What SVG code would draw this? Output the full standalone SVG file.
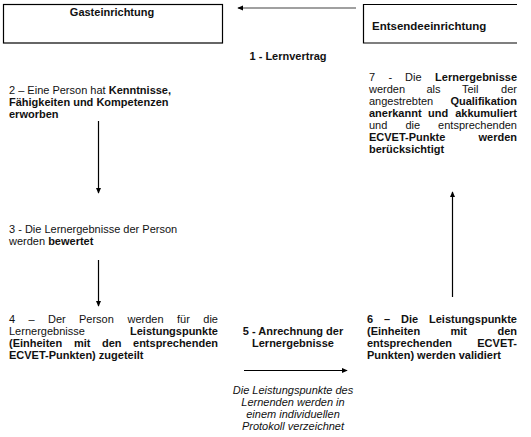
<svg xmlns="http://www.w3.org/2000/svg" width="531" height="437" viewBox="0 0 531 437">
<style>
text{font-family:"Liberation Sans",Arial,sans-serif;font-size:11px;fill:#111}
.b{font-weight:bold}
.i{font-style:italic}
.e{text-anchor:end}
.m{text-anchor:middle}
.box{fill:none;stroke:#000;stroke-width:1.2}
.con{stroke:#000;stroke-width:1.2;fill:none}
</style>
<defs>
<marker id="ah" viewBox="0 0 8 8" refX="7" refY="4" markerWidth="6" markerHeight="6" orient="auto" markerUnits="userSpaceOnUse">
<path d="M0,0.5 L8,4 L0,7.5 z" fill="#000"/>
</marker>
</defs>
<g id="gasteinrichtung">
<rect class="box" x="3.5" y="4.5" width="219" height="38.5"/>
<text class="b m" x="112" y="16">Gasteinrichtung</text>
</g>
<g id="entsendeeinrichtung">
<path class="box" d="M517,4.5 H363.5 V43 H517"/>
<text class="b" x="372" y="30" style="font-size:11.5px">Entsendeeinrichtung</text>
</g>
<g id="step1">
<text class="b m" x="288" y="60">1 - Lernvertrag</text>
</g>
<g id="step2">
<text x="9" y="94">2 – Eine Person hat <tspan class="b">Kenntnisse,</tspan></text>
<text class="b" x="9" y="106">Fähigkeiten und Kompetenzen</text>
<text class="b" x="9" y="118">erworben</text>
</g>
<g id="step3">
<text x="9" y="233">3 - Die Lernergebnisse der Person</text>
<text x="9" y="245">werden <tspan class="b">bewertet</tspan></text>
</g>
<g id="step4">
<text y="323"><tspan x="9">4</tspan><tspan x="28.5">–</tspan><tspan x="48">Der</tspan><tspan x="79">Person</tspan><tspan x="127.5">werden</tspan><tspan x="177">für</tspan></text>
<text class="e" x="218" y="323">die</text>
<text x="9" y="335">Lernergebnisse</text>
<text class="b e" x="218" y="335">Leistungspunkte</text>
<text class="b" y="347"><tspan x="9">(Einheiten</tspan><tspan x="74">mit</tspan><tspan x="102">den</tspan></text>
<text class="b e" x="218" y="347">entsprechenden</text>
<text class="b" x="9" y="359">ECVET-Punkten) zugeteilt</text>
</g>
<g id="step5">
<text class="b m" x="293" y="335">5 - Anrechnung der</text>
<text class="b m" x="293" y="347">Lernergebnisse</text>
</g>
<g id="note">
<text class="i m" x="293" y="394">Die Leistungspunkte des</text>
<text class="i m" x="293" y="406">Lernenden werden in</text>
<text class="i m" x="293" y="418">einem individuellen</text>
<text class="i m" x="293" y="430">Protokoll verzeichnet</text>
</g>
<g id="step6">
<text class="b" y="323"><tspan x="367">6</tspan><tspan x="384">–</tspan><tspan x="401">Die</tspan></text>
<text class="b e" x="517" y="323">Leistungspunkte</text>
<text class="b" y="335"><tspan x="367">(Einheiten</tspan><tspan x="450.5">mit</tspan></text>
<text class="b e" x="517" y="335">den</text>
<text class="b" x="367" y="347">entsprechenden</text>
<text class="b e" x="517" y="347">ECVET-</text>
<text class="b" x="367" y="359">Punkten) werden validiert</text>
</g>
<g id="step7">
<text y="81"><tspan x="369">7</tspan><tspan x="388.5">-</tspan><tspan x="405">Die</tspan></text>
<text class="b e" x="517" y="81">Lernergebnisse</text>
<text y="93"><tspan x="369">werden</tspan><tspan x="426.5">als</tspan><tspan x="462">Teil</tspan></text>
<text class="e" x="517" y="93">der</text>
<text x="369" y="105">angestrebten</text>
<text class="b e" x="517" y="105">Qualifikation</text>
<text class="b" y="117"><tspan x="369">anerkannt</tspan><tspan x="428">und</tspan></text>
<text class="b e" x="517" y="117">akkumuliert</text>
<text y="129"><tspan x="369">und</tspan><tspan x="405.5">die</tspan></text>
<text class="e" x="517" y="129">entsprechenden</text>
<text class="b" x="369" y="141">ECVET-Punkte</text>
<text class="b e" x="517" y="141">werden</text>
<text class="b" x="369" y="153">berücksichtigt</text>
</g>
<g id="connectors">
<line x1="356" y1="8" x2="238" y2="8" stroke="#808080" stroke-width="1.5" marker-end="url(#ah)"/>
<line class="con" x1="98.5" y1="121" x2="98.5" y2="193" marker-end="url(#ah)"/>
<line class="con" x1="98.5" y1="260" x2="98.5" y2="306" marker-end="url(#ah)"/>
<line class="con" x1="244" y1="370.5" x2="347" y2="370.5" marker-end="url(#ah)"/>
<line class="con" x1="452.5" y1="297" x2="452.5" y2="192" marker-end="url(#ah)"/>
</g>
</svg>
